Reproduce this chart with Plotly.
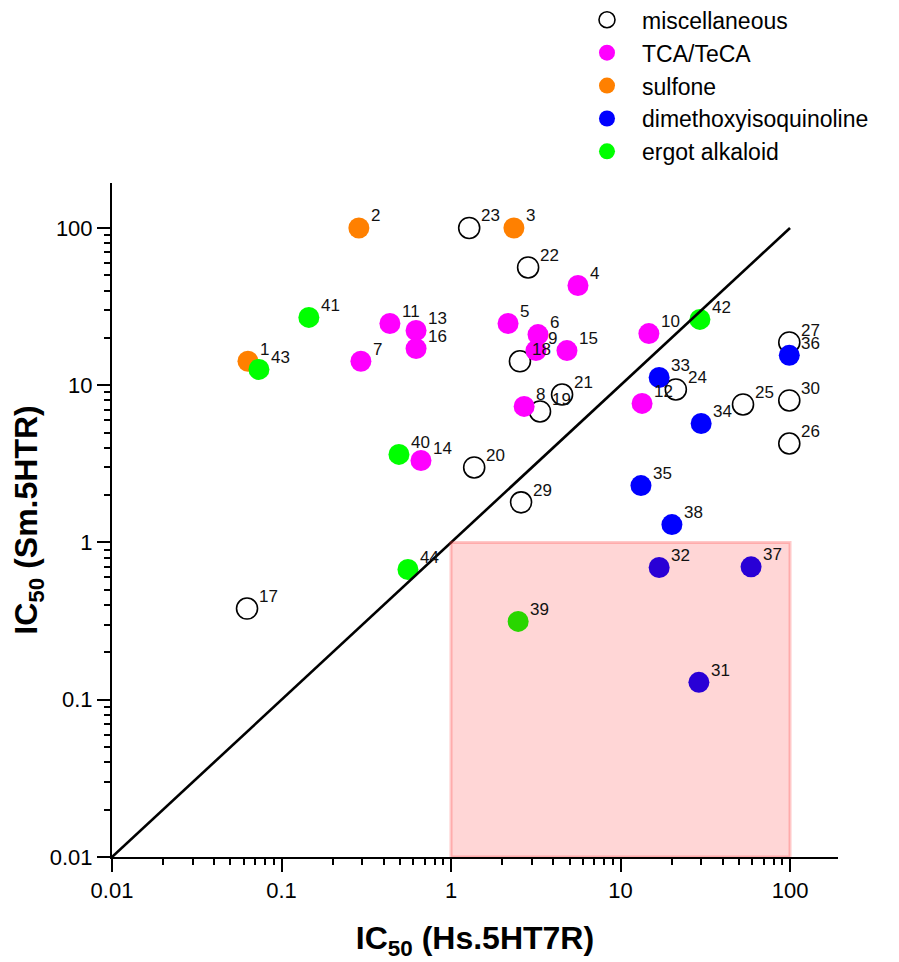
import numpy as np
import plotly.graph_objects as go

# ---- data (IC50 values) ----
misc_ids = [17, 18, 19, 20, 21, 22, 23, 24, 25, 26, 27, 29, 30]
misc_x = [0.0626, 2.55, 3.35, 1.37, 4.52, 2.85, 1.28, 21.2, 52.8, 99.0, 99.0, 2.59, 99.0]
misc_y = [0.38, 14.2, 6.81, 3.0, 8.73, 56.1, 100, 9.4, 7.55, 4.26, 18.7, 1.80, 8.0]

tca_ids = [4, 5, 6, 7, 8, 9, 10, 11, 12, 13, 14, 15, 16]
tca_x = [5.61, 2.17, 3.26, 0.294, 2.70, 3.17, 14.7, 0.436, 13.4, 0.622, 0.665, 4.83, 0.622]
tca_y = [43.1, 24.7, 21.0, 14.2, 7.33, 16.6, 21.3, 24.7, 7.66, 22.3, 3.32, 16.6, 17.1]

sulf_ids = [1, 2, 3]
sulf_x = [0.0634, 0.286, 2.35]
sulf_y = [14.2, 100, 100]

dmiq_ids = [31, 32, 33, 34, 35, 36, 37, 38]
dmiq_x = [29.0, 16.9, 16.9, 29.9, 13.2, 99.0, 58.9, 20.1]
dmiq_y = [0.129, 0.693, 11.2, 5.71, 2.30, 15.5, 0.70, 1.30]

ergot_ids = [39, 40, 41, 42, 43, 44]
ergot_x = [2.49, 0.493, 0.145, 29.4, 0.0736, 0.557]
ergot_y = [0.315, 3.63, 27.0, 26.2, 12.6, 0.673]

diag = [0.01, 100]
box_x = [1, 100]
box_y = [0.01, 1]

tick_vals = [0.01, 0.1, 1, 10, 100]
tick_text = ["0.01", "0.1", "1", "10", "100"]

FONT = "Liberation Sans, Arial, sans-serif"

groups = [
    ("miscellaneous", misc_ids, misc_x, misc_y, "white", dict(color="black", width=1.6)),
    ("TCA/TeCA", tca_ids, tca_x, tca_y, "#ff00ff", dict(width=0)),
    ("sulfone", sulf_ids, sulf_x, sulf_y, "#ff8000", dict(width=0)),
    ("dimethoxyisoquinoline", dmiq_ids, dmiq_x, dmiq_y, "#0000ff", dict(width=0)),
    ("ergot alkaloid", ergot_ids, ergot_x, ergot_y, "#00ff00", dict(width=0)),
]

fig = go.Figure()
annotations = []
for name, ids, xs, ys, col, line in groups:
    fig.add_trace(go.Scatter(
        x=xs, y=ys, mode="markers", name=name,
        marker=dict(size=21, color=col, line=line, symbol="circle"),
    ))
    for i, xv, yv in zip(ids, xs, ys):
        annotations.append(dict(
            x=np.log10(xv), y=np.log10(yv), xref="x", yref="y",
            text=str(i), showarrow=False, xanchor="left", yanchor="middle",
            xshift=10, yshift=12, font=dict(size=17, color="#111", family=FONT),
        ))

fig.add_trace(go.Scatter(x=diag, y=diag, mode="lines", showlegend=False,
                         line=dict(color="black", width=2.6), hoverinfo="skip"))

fig.add_shape(type="rect", xref="x", yref="y",
              x0=box_x[0], x1=box_x[1], y0=box_y[0], y1=box_y[1],
              fillcolor="rgba(255,0,0,0.16)", line=dict(color="rgba(255,60,60,0.28)", width=3),
              layer="above")

axis_common = dict(
    type="log", showgrid=False, zeroline=False, showline=True, linecolor="black", linewidth=2,
    ticks="outside", ticklen=13, tickwidth=2, tickcolor="black",
    tickvals=tick_vals, ticktext=tick_text,
    tickfont=dict(size=22, family=FONT, color="black"),
    minor=dict(ticks="outside", ticklen=6, tickwidth=1.5, tickcolor="black", dtick="D1", showgrid=False),
    mirror=False, automargin=False,
)

fig.update_layout(
    width=899, height=962,
    margin=dict(l=104, r=69, t=175, b=113, autoexpand=False),
    paper_bgcolor="white", plot_bgcolor="white",
    xaxis=dict(range=[-2, 2.283],
               title=dict(text="<b>IC<sub>50</sub> (Hs.5HT7R)</b>", font=dict(size=32, family=FONT, color="black"), standoff=24),
               **axis_common),
    yaxis=dict(range=[-2, 2.286],
               title=dict(text="<b>IC<sub>50</sub> (Sm.5HTR)</b>", font=dict(size=32, family=FONT, color="black"), standoff=4),
               **axis_common),
    legend=dict(x=0.6336, y=1.274, xref="paper", yref="paper", xanchor="left", yanchor="top",
                font=dict(size=23, family=FONT, color="black"),
                bgcolor="rgba(0,0,0,0)", itemsizing="trace", itemwidth=60),
    annotations=annotations,
    showlegend=True,
)

fig.write_html("out.html")
